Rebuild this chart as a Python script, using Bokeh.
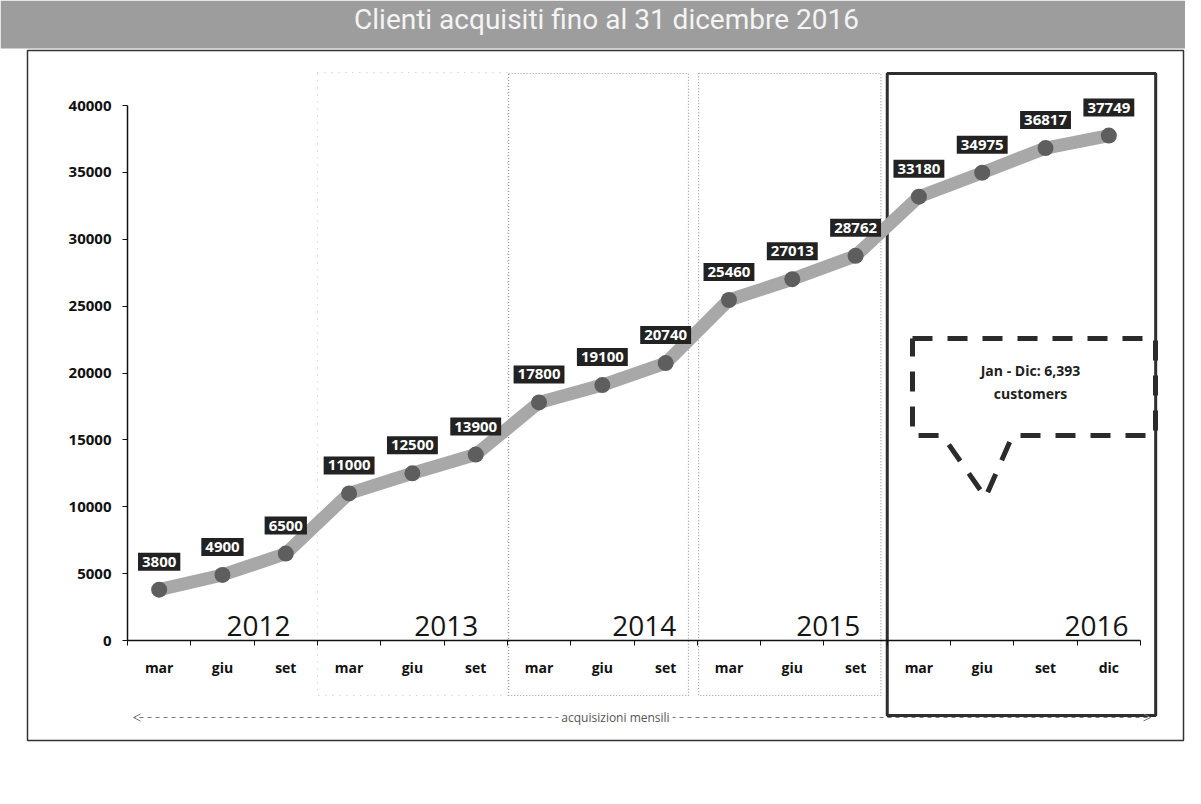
from bokeh.plotting import figure
from bokeh.models import Range1d, FixedTicker, Label, Arrow, OpenHead
from bokeh.embed import file_html
from bokeh.resources import INLINE

# ---------------- data ----------------
title_text = "Clienti acquisiti fino al 31 dicembre 2016"
years = ["2012", "2013", "2014", "2015", "2016"]
months = ["mar", "giu", "set", "mar", "giu", "set", "mar", "giu", "set",
          "mar", "giu", "set", "mar", "giu", "set", "dic"]
year_last_index = [2, 5, 8, 11, 15]
customers = [3800, 4900, 6500, 11000, 12500, 13900, 17800, 19100, 20740,
             25460, 27013, 28762, 33180, 34975, 36817, 37749]
y_ticks = [0, 5000, 10000, 15000, 20000, 25000, 30000, 35000, 40000]
note_lines = ["Jan - Dic: 6,393", "customers"]
axis_caption = "acquisizioni mensili"

# ---------------- layout ----------------
W, H = 1185, 788
FRAME_L, FRAME_R = 127, 1140      # canvas px of x=-0.5 and x=15.5
ZERO_Y, TOP_Y = 640, 105           # canvas px of y=0 and y=40000
n = len(months)
sx = (FRAME_R - FRAME_L) / n
x0 = -0.5 - FRAME_L / sx
x1 = x0 + W / sx
sy = (ZERO_Y - TOP_Y) / y_ticks[-1]
y_top = y_ticks[-1] + TOP_Y / sy
y_bot = -(H - ZERO_Y) / sy


def dx(cx):
    return x0 + cx / sx


def dy(cy):
    return y_top - cy / sy


xs = list(range(n))

p = figure(width=W, height=H, x_range=Range1d(x0, x1), y_range=Range1d(y_bot, y_top),
           toolbar_location=None, output_backend="svg", min_border=0,
           outline_line_color=None, background_fill_color="white",
           border_fill_color="white")
p.grid.visible = False

# title banner
p.quad(left=dx(0), right=dx(W), top=dy(0), bottom=dy(48),
       fill_color="#9d9d9d", line_color=None)
p.add_layout(Label(x=dx(606), y=dy(19), text=title_text, text_align="center",
                   text_baseline="middle", text_font="Roboto", text_font_size="28px",
                   text_color="#f4f4f4"))

# outer frame
p.quad(left=dx(27), right=dx(1183), top=dy(50), bottom=dy(740),
       fill_alpha=0, line_color="#333333", line_width=1.5)

# year boxes
p.quad(left=2.5, right=5.5, top=dy(72), bottom=dy(695), fill_alpha=0,
       line_color="#c0c0c0", line_width=1, line_dash="1 6")
p.quad(left=[5.52, 8.52], right=[8.36, 11.4], top=dy(73), bottom=dy(695),
       fill_alpha=0, line_color="#9a9a9a", line_width=1.2, line_dash="1 2")
p.quad(left=11.5, right=15.74, top=dy(73), bottom=dy(715), fill_alpha=0,
       line_color="#2e2e2e", line_width=3)

# axes
p.xaxis.fixed_location = 0
p.xaxis.bounds = (-0.5, n - 0.5)
p.xaxis.ticker = FixedTicker(ticks=xs, minor_ticks=[i - 0.5 for i in range(n + 1)])
p.xaxis.major_label_overrides = {i: m for i, m in zip(xs, months)}
p.xaxis.major_tick_in = 0
p.xaxis.major_tick_out = 0
p.xaxis.minor_tick_in = 0
p.xaxis.minor_tick_out = 5
p.xaxis.minor_tick_line_color = "#111111"
p.xaxis.axis_line_color = "#111111"
p.xaxis.axis_line_width = 1.5
p.xaxis.major_label_standoff = 12
p.xaxis.major_label_text_font = "Open Sans"
p.xaxis.major_label_text_font_style = "bold"
p.xaxis.major_label_text_font_size = "14px"
p.xaxis.major_label_text_color = "#111111"

p.yaxis.fixed_location = -0.5
p.yaxis.bounds = (0, y_ticks[-1])
p.yaxis.ticker = FixedTicker(ticks=y_ticks)
p.yaxis.major_tick_in = 0
p.yaxis.major_tick_out = 5
p.yaxis.minor_tick_line_color = None
p.yaxis.axis_line_color = "#111111"
p.yaxis.axis_line_width = 1.5
p.yaxis.major_tick_line_color = "#111111"
p.yaxis.major_label_standoff = 11
p.yaxis.major_label_text_font = "Open Sans"
p.yaxis.major_label_text_font_style = "bold"
p.yaxis.major_label_text_font_size = "15px"
p.yaxis.major_label_text_color = "#111111"

# year labels
year_dx = [-27, -29, -21, -27, -12]
for yr, last, off in zip(years, year_last_index, year_dx):
    p.add_layout(Label(x=last + 0.5, y=0, x_offset=off, y_offset=15, text=yr,
                       text_align="right", text_baseline="alphabetic",
                       text_font="Open Sans", text_font_size="28px",
                       text_color="#151515"))

# series
p.line(xs, customers, line_width=13, line_color="#a8a8a8", line_cap="round",
       line_join="round")
p.scatter(xs, customers, size=16, fill_color="#5e5e5e", line_color=None)

for x, v in zip(xs, customers):
    p.add_layout(Label(x=x, y=v, y_offset=28, text=str(v), text_align="center",
                       text_baseline="middle", text_font="Open Sans",
                       text_font_style="bold", text_font_size="15px",
                       text_color="white", background_fill_color="#222222",
                       padding=4))

# callout
cpx = [912, 1155, 1155, 1012, 985, 942, 912, 912]
cpy = [338, 338, 435, 435, 497, 435, 435, 338]
p.line([dx(c) for c in cpx], [dy(c) for c in cpy], line_width=5,
       line_color="#2b2b2b", line_dash="20 15")
for i, t in enumerate(note_lines):
    p.add_layout(Label(x=dx(1030), y=dy(370 + 23 * i), text=t, text_align="center",
                       text_baseline="middle", text_font="Open Sans",
                       text_font_style="bold", text_font_size="14px",
                       text_color="#1e1e1e"))

# bottom caption arrow
head = dict(size=7, line_color="#777777", line_width=1)
p.add_layout(Arrow(x_start=dx(615), y_start=dy(717), x_end=dx(133), y_end=dy(717),
                   end=OpenHead(**head), line_color="#777777", line_dash="4 4",
                   line_width=1))
p.add_layout(Arrow(x_start=dx(615), y_start=dy(717), x_end=dx(1150), y_end=dy(717),
                   end=OpenHead(**head), line_color="#777777", line_dash="4 4",
                   line_width=1))
p.add_layout(Label(x=dx(615), y=dy(717), text=axis_caption, text_align="center",
                   text_baseline="middle", text_font="Open Sans",
                   text_font_size="12px", text_color="#555555",
                   background_fill_color="white", padding=3))

open("out.html", "w").write(file_html(p, INLINE))
